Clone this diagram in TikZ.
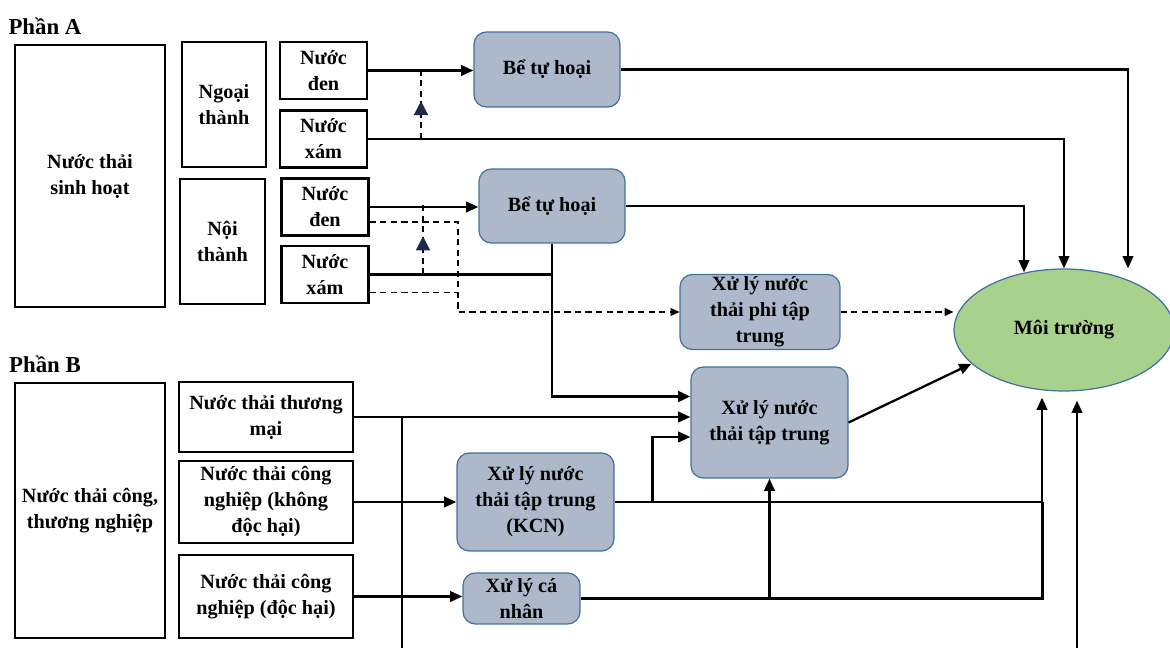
\documentclass[tikz,border=0pt]{standalone}
\usepackage{fontspec}
\setmainfont{Liberation Serif}
\usetikzlibrary{calc,arrows.meta,decorations.markings,shapes.geometric}

\definecolor{boxfill}{HTML}{ADB9CA}
\definecolor{boxline}{HTML}{41719C}
\definecolor{envfill}{HTML}{A9D18E}
\definecolor{tipcol}{HTML}{1F2A4A}

\begin{document}
\begin{tikzpicture}[x=0.02cm, y=-0.02cm, font=\fontsize{11.5}{14.8}\selectfont\bfseries,
    src/.style={draw, line width=1.4pt, align=center, inner sep=0pt},
    wbox/.style={src, minimum width=1.74cm, minimum height=1.14cm},
    proc/.style={draw=boxline, fill=boxfill, line width=0.7pt, rounded corners=7pt, align=center, inner sep=0pt},
    ln/.style={line width=1.3pt},
    arr/.style={ln, -{Triangle[length=7pt,width=6pt]}},
    dashline/.style={line width=0.8pt, dash pattern=on 3.5pt off 2.5pt},
    dasharr/.style={dashline, -{Triangle[length=5pt,width=4.5pt]}},
    uptri/.style={postaction={decorate}, decoration={markings, mark=at position 0.55 with {\arrow{Triangle[length=8pt,width=8pt,color=tipcol]}}}}]
  \useasboundingbox (0,0) rectangle (1170,648);
  \clip (0,0) rectangle (1170,648);
  %
  \node (phanA) at (45, 26) {\fontsize{13}{15}\selectfont Phần A};
  \node[src, minimum width=3cm, minimum height=5.24cm] (sinh) at (90, 176) {Nước thải\\sinh hoạt};
  \node[src, minimum width=1.68cm, minimum height=2.5cm] (ngoai) at (224, 104.5) {Ngoại\\thành};
  \node[src, minimum width=1.7cm, minimum height=2.5cm] (noi) at (222.5, 241.5) {Nội\\thành};
  \node[wbox] (den1) at (323.5, 70.5) {Nước\\đen};
  \node[wbox] (xam1) at (323.5, 139) {Nước\\xám};
  \node[wbox] (den2) at (325, 207) {Nước\\đen};
  \node[wbox] (xam2) at (325, 274.5) {Nước\\xám};
  %
  \node[proc, minimum width=2.92cm, minimum height=1.5cm] (be1) at (547, 69.5) {Bể tự hoại};
  \node[proc, minimum width=2.92cm, minimum height=1.48cm] (be2) at (552, 206) {Bể tự hoại};
  \node[proc, minimum width=3.2cm, minimum height=1.5cm] (phi) at (760, 312) {Xử lý nước\\thải phi tập\\trung};
  \node[proc, minimum width=3.14cm, minimum height=2.22cm] (ttt) at (769.5, 422.5) {Xử lý nước\\thải tập trung};
  \node[proc, minimum width=3.14cm, minimum height=1.96cm] (kcn) at (535.5, 502) {Xử lý nước\\thải tập trung\\(KCN)};
  \node[proc, minimum width=2.34cm, minimum height=1.02cm] (canhan) at (521.5, 598.5) {Xử lý cá\\nhân};
  \node[ellipse, draw=boxline, fill=envfill, line width=0.7pt, inner sep=0pt, minimum width=4.4cm, minimum height=2.44cm] (moi) at (1064, 330) {Môi trường};
  %
  \node (phanB) at (45, 364) {\fontsize{13}{15}\selectfont Phần B};
  \node[src, minimum width=3cm, minimum height=5.1cm] (cong) at (90, 510.5) {Nước thải công,\\thương nghiệp};
  \node[src, minimum width=3.48cm, minimum height=1.4cm] (tm) at (266, 417) {Nước thải thương\\mại};
  \node[src, minimum width=3.48cm, minimum height=1.64cm] (kdh) at (266, 502) {Nước thải công\\nghiệp (không\\độc hại)};
  \node[src, minimum width=3.48cm, minimum height=1.66cm] (dh) at (266, 596.5) {Nước thải công\\nghiệp (độc hại)};
  %
  \coordinate (j1) at (421, 70);
  \coordinate (j2) at (423, 205);
  \coordinate (k) at (458, 312);
  %
  \draw[arr] (den1.east) -- (den1.east -| be1.west);
  \draw[arr] (xam1.east) -| (moi.north);
  \draw[dashline] (xam1.east) -- (xam1.east -| j1);
  \draw[dashline, uptri] (xam1.east -| j1) -- (j1);
  \draw[arr] (be1.east) -| ($(moi.north)+(64,0)$);
  %
  \draw[arr] (den2.east) -- (den2.east -| be2.west);
  \draw[arr] (be2.east) -| ($(moi.north)+(-40,4)$);
  \draw[ln] (xam2.east) -- (xam2.east -| be2.south);
  \draw[dashline, uptri] (j2 |- xam2.east) -- (j2);
  \draw[dasharr] ($(den2.east)+(0,15)$) -| (k) -- (phi.west);
  \draw[dashline] ($(xam2.east)+(0,18)$) coordinate (x2d) -- (x2d -| k);
  \draw[dasharr] (phi.east) -- (phi.east -| moi.west);
  \draw[arr, line width=1.7pt] (be2.south) |- ($(ttt.west)+(0,-26)$);
  \draw[arr] (ttt.east) -- (moi.200);
  %
  \draw[arr] (tm.east) -- (tm.east -| ttt.west);
  \draw[arr] ($(tm.east)+(48,0)$) -- ++(0,260) -| ($(moi.south)+(13,9)$);
  \draw[arr] (kdh.east) -- (kdh.east -| kcn.west);
  \draw[arr] (kcn.east) -| ($(moi.south)+(-22,6)$);
  \draw[arr] ($(kcn.east)+(38,0)$) |- ($(ttt.west)+(0,14.5)$);
  \draw[arr] (dh.east) -- (dh.east -| canhan.west);
  \draw[ln] (canhan.east) -| ($(kcn.east)+(428,0)$);
  \draw[arr] (ttt.south |- canhan.east) -- (ttt.south);
\end{tikzpicture}
\end{document}
